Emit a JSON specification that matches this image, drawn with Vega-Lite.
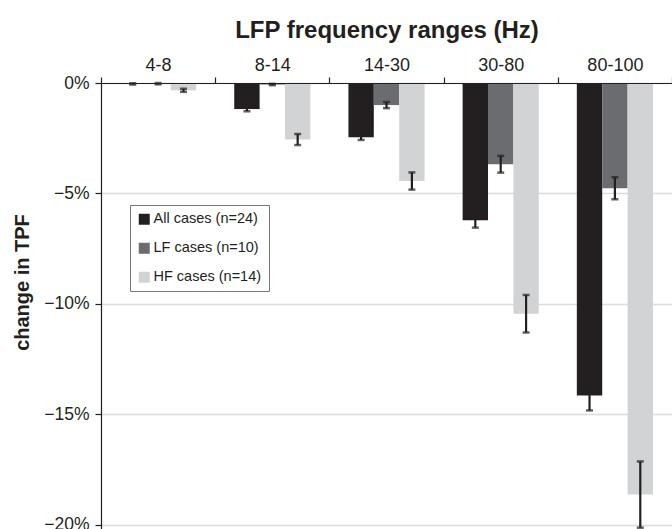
{
  "$schema": "https://vega.github.io/schema/vega-lite/v6.json",
  "width": 571,
  "height": 446,
  "autosize": {"type": "none"},
  "padding": {"left": 101, "top": 83, "right": 0, "bottom": 0},
  "background": "white",
  "config": {"view": {"stroke": null}, "font": "Liberation Sans"},
  "data": {
    "values": [
      {"freq": "4-8", "group": "All cases (n=24)", "value": -0.0004, "lo": -0.0007, "hi": -0.0001},
      {"freq": "4-8", "group": "LF cases (n=10)", "value": -0.0003, "lo": -0.0006, "hi": 0.0},
      {"freq": "4-8", "group": "HF cases (n=14)", "value": -0.0033, "lo": -0.0040, "hi": -0.0026},
      {"freq": "8-14", "group": "All cases (n=24)", "value": -0.0118, "lo": -0.0128, "hi": -0.0108},
      {"freq": "8-14", "group": "LF cases (n=10)", "value": -0.0007, "lo": -0.0010, "hi": -0.0004},
      {"freq": "8-14", "group": "HF cases (n=14)", "value": -0.0256, "lo": -0.0281, "hi": -0.0231},
      {"freq": "14-30", "group": "All cases (n=24)", "value": -0.0246, "lo": -0.0258, "hi": -0.0234},
      {"freq": "14-30", "group": "LF cases (n=10)", "value": -0.0100, "lo": -0.0114, "hi": -0.0086},
      {"freq": "14-30", "group": "HF cases (n=14)", "value": -0.0444, "lo": -0.0483, "hi": -0.0405},
      {"freq": "30-80", "group": "All cases (n=24)", "value": -0.0622, "lo": -0.0655, "hi": -0.0589},
      {"freq": "30-80", "group": "LF cases (n=10)", "value": -0.0368, "lo": -0.0406, "hi": -0.0330},
      {"freq": "30-80", "group": "HF cases (n=14)", "value": -0.1045, "lo": -0.1130, "hi": -0.0960},
      {"freq": "80-100", "group": "All cases (n=24)", "value": -0.1415, "lo": -0.1483, "hi": -0.1347},
      {"freq": "80-100", "group": "LF cases (n=10)", "value": -0.0477, "lo": -0.0527, "hi": -0.0427},
      {"freq": "80-100", "group": "HF cases (n=14)", "value": -0.1864, "lo": -0.2014, "hi": -0.1714}
    ]
  },
  "encoding": {
    "x": {
      "field": "freq",
      "type": "nominal",
      "sort": ["4-8", "8-14", "14-30", "30-80", "80-100"],
      "scale": {"paddingInner": 0, "paddingOuter": 0},
      "axis": {
        "orient": "top",
        "zindex": 1,
        "title": "LFP frequency ranges (Hz)",
        "titleFontSize": 24,
        "titleFontWeight": "bold",
        "titleColor": "#231f20",
        "titleX": 285.5,
        "titleY": -46,
        "titleAlign": "center",
        "titleBaseline": "alphabetic",
        "labelAngle": 0,
        "labelFontSize": 18,
        "labelColor": "#231f20",
        "labelPadding": 7,
        "labelBaseline": "alphabetic",
        "tickBand": "extent",
        "tickSize": 6,
        "tickColor": "#231f20",
        "domainColor": "#231f20",
        "domainWidth": 1.2,
        "tickWidth": 1.2
      }
    },
    "xOffset": {
      "field": "group",
      "type": "nominal",
      "sort": ["All cases (n=24)", "LF cases (n=10)", "HF cases (n=14)"],
      "scale": {"paddingInner": 0, "paddingOuter": 0.75}
    }
  },
  "layer": [
    {
      "mark": {"type": "bar"},
      "encoding": {
        "y": {
          "field": "value",
          "type": "quantitative",
          "title": "change in TPF",
          "scale": {"domain": [-0.202, 0], "nice": false, "zero": false},
          "axis": {
            "values": [0, -0.05, -0.1, -0.15, -0.2],
            "format": ".0%",
            "labelFontSize": 17.5,
            "labelColor": "#231f20",
            "labelPadding": 6,
            "tickSize": 6,
            "tickColor": "#231f20",
            "domainColor": "#231f20",
            "domainWidth": 1.2,
            "tickWidth": 1.2,
            "grid": true,
            "gridColor": "#dcdcdc",
            "gridWidth": 1.5,
            "titleFontSize": 20,
            "titleFontWeight": "bold",
            "titleColor": "#231f20",
            "titleX": -73,
            "titleY": 199,
            "titleAlign": "center",
            "titleBaseline": "alphabetic"
          }
        },
        "color": {
          "field": "group",
          "type": "nominal",
          "scale": {
            "domain": ["All cases (n=24)", "LF cases (n=10)", "HF cases (n=14)"],
            "range": ["#231f20", "#6b6c6f", "#d1d3d4"]
          },
          "legend": {
            "orient": "none",
            "legendX": 29,
            "legendY": 122,
            "title": null,
            "symbolType": "square",
            "symbolSize": 121,
            "symbolStrokeWidth": 0,
            "labelFontSize": 14.5,
            "labelColor": "#231f20",
            "labelOffset": 2,
            "rowPadding": 14,
            "padding": 7,
            "strokeColor": "#777777",
            "fillColor": "white"
          }
        }
      }
    },
    {
      "mark": {"type": "rule", "strokeWidth": 2.2, "color": "#231f20"},
      "encoding": {
        "y": {"field": "lo", "type": "quantitative", "title": "change in TPF"},
        "y2": {"field": "hi"}
      }
    },
    {
      "mark": {"type": "tick", "thickness": 2.5, "size": 7, "color": "#231f20"},
      "encoding": {
        "y": {"field": "lo", "type": "quantitative", "title": "change in TPF"}
      }
    },
    {
      "mark": {"type": "tick", "thickness": 2.5, "size": 7, "color": "#231f20"},
      "encoding": {
        "y": {"field": "hi", "type": "quantitative", "title": "change in TPF"}
      }
    }
  ]
}
